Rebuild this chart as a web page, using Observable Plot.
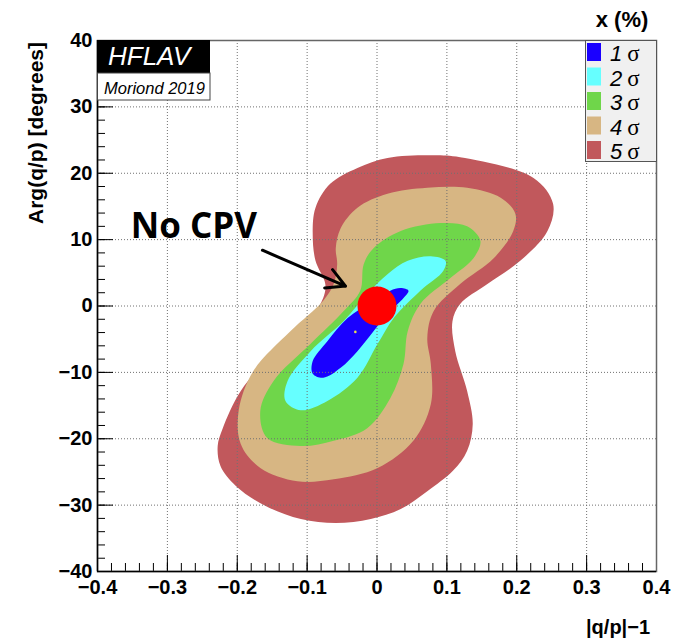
<!DOCTYPE html>
<html>
<head>
<meta charset="utf-8">
<script src="https://cdn.jsdelivr.net/npm/d3@7"></script>
<script src="https://cdn.jsdelivr.net/npm/@observablehq/plot@0.6"></script>
<style>
  body { margin: 0; background: #fff; }
  #chart svg { display: block; }
</style>
</head>
<body>
<div id="chart"></div>
<script>
// Confidence-level contours in the (|q/p|-1, Arg(q/p)) plane, outer boundary of each region.
const levels = ["1", "2", "3", "4", "5"];
const levelColors = ["#1a00ff", "#66ffff", "#6fd64a", "#d7b683", "#c1585c"];

const sigma1 = [
  [0.034, 2.7], [0.045, 2.3], [0.038, 1.2], [0.015, -1.2], [-0.005, -3.8], [-0.028, -6.8],
  [-0.052, -9.3], [-0.077, -10.8], [-0.092, -10.2], [-0.092, -8.3], [-0.071, -5.3],
  [-0.042, -1.8], [-0.005, 0.8], [0.019, 2.3]
];
const sigma2 = [
  [0.077, 7.5], [0.098, 6.8], [0.095, 5.3], [0.062, 2.3], [0.024, -1.8], [0.001, -5.7],
  [-0.028, -10.8], [-0.071, -14.3], [-0.109, -15.7], [-0.131, -14.3], [-0.128, -11.3],
  [-0.095, -6.8], [-0.048, -2.3], [-0.014, 1.8], [0.015, 4.8], [0.044, 6.8]
];
const sigma3 = [
  [0.091, 12.5], [0.129, 12.0], [0.148, 9.8], [0.138, 7.2], [0.105, 4.2], [0.062, 0.3],
  [0.044, -3.8], [0.038, -8.7], [0.019, -13.9], [-0.014, -18.4], [-0.062, -20.3],
  [-0.109, -21.1], [-0.157, -19.9], [-0.167, -15.8], [-0.148, -11.3], [-0.095, -5.7],
  [-0.048, -0.8], [-0.024, 2.3], [-0.019, 6.3], [-0.005, 8.7], [0.034, 11.3]
];
const sigma4 = [
  [0.072, 17.8], [0.015, 16.9], [-0.028, 14.8], [-0.052, 11.7], [-0.059, 8.7], [-0.057, 6.3],
  [-0.062, 3.3], [-0.077, 0.8], [-0.124, -3.8], [-0.177, -9.8], [-0.198, -15.8],
  [-0.195, -20.8], [-0.167, -24.4], [-0.114, -26.4], [-0.062, -26.1], [0.001, -24.4],
  [0.052, -20.3], [0.077, -14.8], [0.077, -8.7], [0.072, -4.8], [0.081, -0.8], [0.119, 3.3],
  [0.167, 7.2], [0.195, 11.3], [0.198, 13.9], [0.177, 16.3], [0.129, 17.8]
];
const sigma5 = [
  [0.081, 22.7], [0.119, 22.4], [0.224, 19.3], [0.252, 15.4], [0.244, 11.3], [0.205, 6.8],
  [0.158, 3.3], [0.119, 0.3], [0.108, -2.3], [0.112, -6.8], [0.129, -12.8], [0.137, -17.8],
  [0.129, -21.8], [0.109, -24.8], [0.072, -27.9], [0.034, -30.6], [-0.009, -32.1],
  [-0.059, -32.7], [-0.109, -32.1], [-0.160, -30.1], [-0.202, -27.1], [-0.224, -24.1],
  [-0.228, -21.1], [-0.221, -18.5], [-0.195, -12.8], [-0.142, -6.3], [-0.095, -1.8],
  [-0.077, 1.2], [-0.074, 3.3], [-0.088, 6.8], [-0.092, 10.8], [-0.088, 14.8],
  [-0.067, 18.4], [-0.028, 20.8], [0.015, 22.3]
];
const contours = [sigma1, sigma2, sigma3, sigma4, sigma5];

// Best-fit point and the no-CP-violation point
const bestFit = [[-0.031, -3.9]];
const noCPV = [[0, 0]];

// Annotation
const noteText = ["No CPV"];
const notePos = [[-0.262, 12.0]];
const arrowFrom = [-0.164, 8.4];
const arrowTo = [-0.045, 3.0];

// Axes
const xMajor = [-0.4, -0.3, -0.2, -0.1, 0, 0.1, 0.2, 0.3, 0.4];
const xTickLabels = ["\u22120.4", "\u22120.3", "\u22120.2", "\u22120.1", "0", "0.1", "0.2", "0.3", "0.4"];
const xMinor = d3.range(-20, 21).map(i => i * 0.02);
const yMajor = [-40, -30, -20, -10, 0, 10, 20, 30, 40];
const yTickLabels = ["\u221240", "\u221230", "\u221220", "\u221210", "0", "10", "20", "30", "40"];
const yMinor = d3.range(-20, 21).map(i => i * 2);

const W = 683, H = 641;
const mL = 97, mR = 27, mT = 40, mB = 70;
const fw = W - mL - mR, fh = H - mT - mB;

const contourMarks = contours.map((pts, i) => Plot.line(pts, {
  x: d => d[0], y: d => d[1],
  curve: "catmull-rom-closed",
  fill: levelColors[i], stroke: "none"
})).reverse();

const plot = Plot.plot({
  width: W, height: H,
  marginLeft: mL, marginRight: mR, marginTop: mT, marginBottom: mB,
  style: {fontFamily: "'Liberation Sans', Arial, sans-serif", background: "#fff", overflow: "visible"},
  x: {domain: [-0.4, 0.4]},
  y: {domain: [-40, 40]},
  marks: [
    ...contourMarks,
    Plot.gridX(xMajor, {stroke: "#707070", strokeOpacity: 1, strokeDasharray: "1,2"}),
    Plot.gridY(yMajor, {stroke: "#707070", strokeOpacity: 1, strokeDasharray: "1,2"}),
    Plot.dot(bestFit, {x: d => d[0], y: d => d[1], r: 1.3, fill: "#e8e050", stroke: "none"}),
    Plot.dot(noCPV, {x: d => d[0], y: d => d[1], r: 19.5, fill: "#ff0000", stroke: "none"}),
    Plot.ruleX(xMinor, {x: d => d, insetTop: fh - 8, stroke: "#000"}),
    Plot.ruleX(xMajor, {x: d => d, insetTop: fh - 16, stroke: "#000"}),
    Plot.ruleY(yMinor, {y: d => d, insetRight: fw - 8, stroke: "#000"}),
    Plot.ruleY(yMajor, {y: d => d, insetRight: fw - 16, stroke: "#000"}),
    Plot.frame({stroke: "#666", strokeWidth: 1.5}),
    Plot.ruleX([-0.4], {stroke: "#000", strokeWidth: 1.5}),
    Plot.ruleY([-40], {stroke: "#000", strokeWidth: 1.5}),
    Plot.axisX(xMajor, {
      tickSize: 0, tickPadding: 8, label: null,
      tickFormat: (d) => xTickLabels[xMajor.indexOf(d)],
      fontSize: 20, fontWeight: "bold", fill: "#000"
    }),
    Plot.axisY(yMajor, {
      tickSize: 0, tickPadding: 5, label: null,
      tickFormat: (d) => yTickLabels[yMajor.indexOf(d)],
      fontSize: 20, fontWeight: "bold", fill: "#000"
    }),
    Plot.text(notePos, {
      x: d => d[0], y: d => d[1], text: (d, i) => noteText[i],
      fontSize: 35, fontWeight: "bold", fontFamily: "'Open Sans', sans-serif",
      fill: "#000", textAnchor: "middle", lineAnchor: "middle"
    }),
    Plot.arrow([{x1: arrowFrom[0], y1: arrowFrom[1], x2: arrowTo[0], y2: arrowTo[1]}], {
      x1: "x1", y1: "y1", x2: "x2", y2: "y2",
      stroke: "#000", strokeWidth: 3, headLength: 10.5, headAngle: 57
    })
  ]
});

const svg = d3.select(plot);

// Axis titles
svg.append("text")
  .attr("transform", "translate(43,42) rotate(-90)")
  .attr("text-anchor", "end")
  .attr("font-size", 21).attr("font-weight", "bold").attr("fill", "#000")
  .text("Arg(q/p) [degrees]");
svg.append("text")
  .attr("x", 650).attr("y", 634)
  .attr("text-anchor", "end")
  .attr("font-size", 20).attr("font-weight", "bold").attr("fill", "#000")
  .text("|q/p|\u22121");
svg.append("text")
  .attr("x", 622).attr("y", 27)
  .attr("text-anchor", "middle")
  .attr("font-size", 22).attr("font-weight", "bold").attr("fill", "#000")
  .text("x (%)");

// HFLAV label
const logo = svg.append("g").attr("text-anchor", "start");
logo.append("rect").attr("x", 97).attr("y", 40).attr("width", 113).attr("height", 33).attr("fill", "#000");
logo.append("rect").attr("x", 97.5).attr("y", 73).attr("width", 112.5).attr("height", 27)
  .attr("fill", "#fff").attr("stroke", "#444").attr("stroke-width", 1);
logo.append("text").attr("x", 108).attr("y", 65).attr("text-anchor", "start")
  .attr("font-size", 26).attr("font-style", "italic").attr("fill", "#fff").text("HFLAV");
logo.append("text").attr("x", 104).attr("y", 94).attr("text-anchor", "start")
  .attr("font-size", 16.5).attr("font-style", "italic").attr("fill", "#000").text("Moriond 2019");

// Legend
const legend = svg.append("g").attr("text-anchor", "start");
legend.append("rect").attr("x", 585.5).attr("y", 40.5).attr("width", 71).attr("height", 121)
  .attr("fill", "#f0f0f0").attr("stroke", "#555").attr("stroke-width", 1);
levels.forEach((lv, i) => {
  const y0 = 43 + i * 24.5;
  legend.append("rect").attr("x", 587).attr("y", y0).attr("width", 14).attr("height", 18)
    .attr("fill", levelColors[i]);
  const t = legend.append("text").attr("x", 610).attr("y", y0 + 18).attr("text-anchor", "start")
    .attr("font-size", 22).attr("fill", "#000");
  t.append("tspan").attr("font-style", "italic").text(lv);
  t.append("tspan").attr("dx", 5).attr("font-family", "'Liberation Serif', 'DejaVu Serif', serif")
    .attr("font-size", 23).text("\u03c3");
});

document.getElementById("chart").appendChild(plot);
</script>
</body>
</html>
